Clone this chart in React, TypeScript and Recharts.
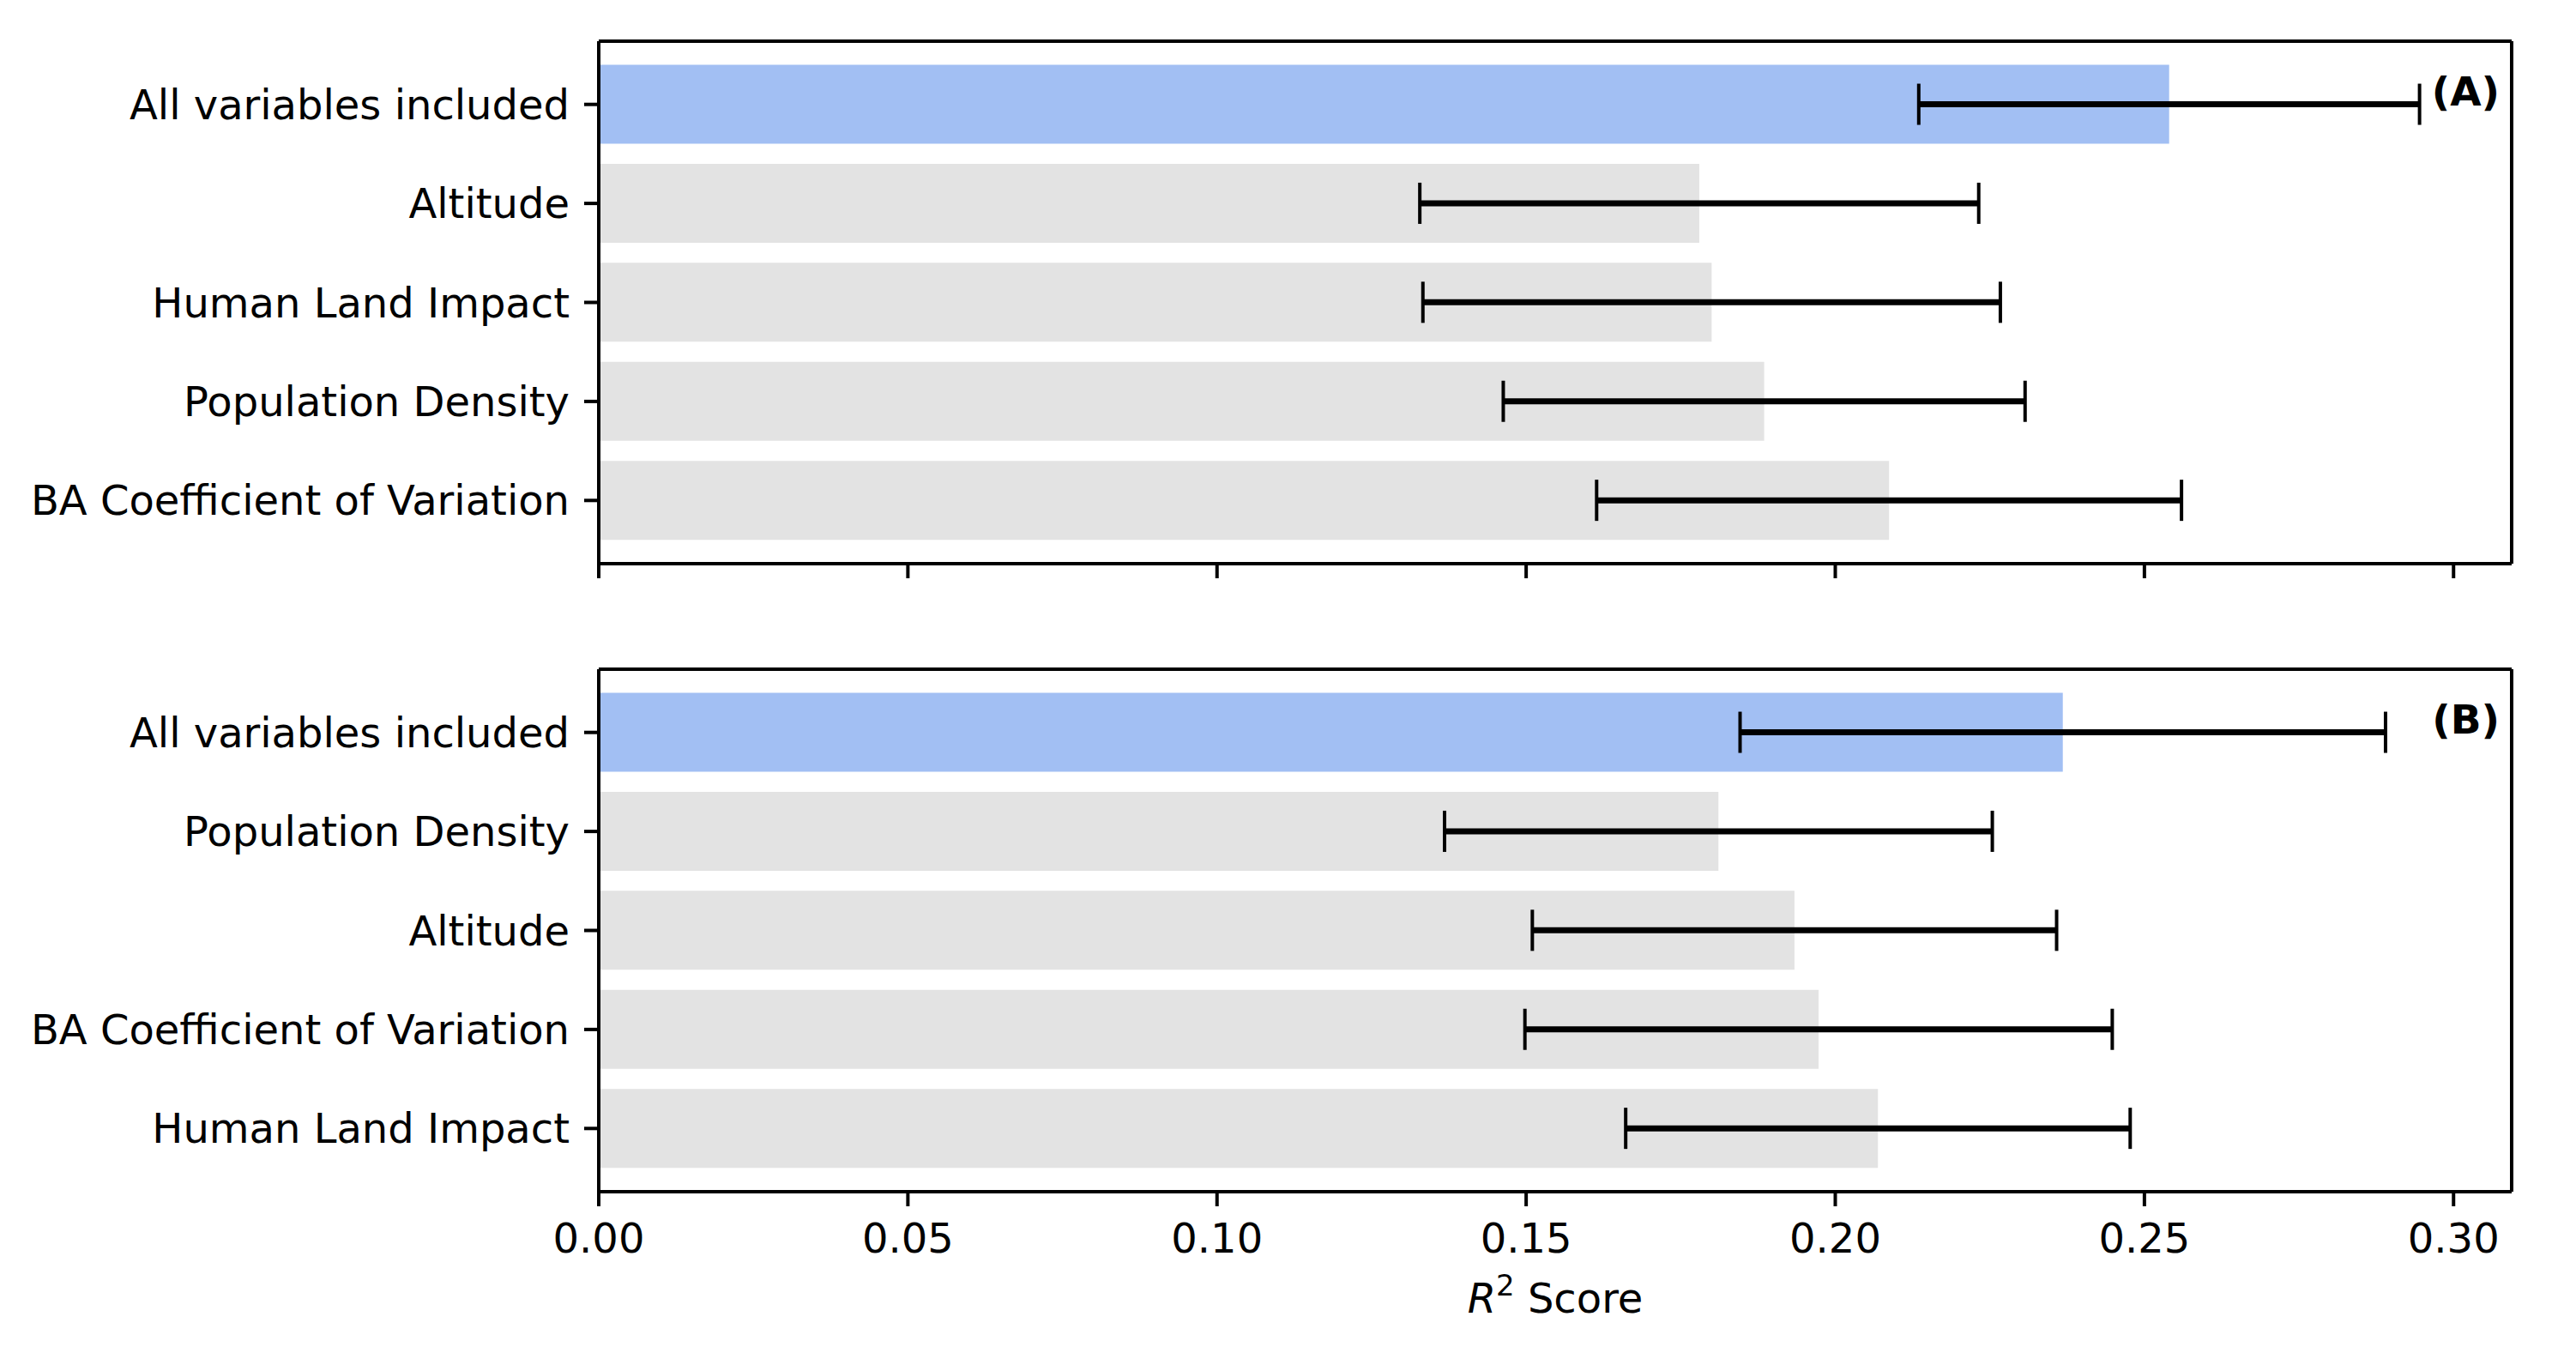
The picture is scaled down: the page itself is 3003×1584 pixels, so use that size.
import React from 'react';
import { BarChart, Bar, XAxis, YAxis, ErrorBar, Cell, ReferenceLine } from 'recharts';

// ---- data ----
const namesA = [
  'All variables included',
  'Altitude',
  'Human Land Impact',
  'Population Density',
  'BA Coefficient of Variation',
];
const valuesA = [0.254, 0.178, 0.180, 0.1885, 0.2087];
const errorsA = [0.0405, 0.0452, 0.0467, 0.0422, 0.0473];

const namesB = [
  'All variables included',
  'Population Density',
  'Altitude',
  'BA Coefficient of Variation',
  'Human Land Impact',
];
const valuesB = [0.2368, 0.1811, 0.1934, 0.1973, 0.2069];
const errorsB = [0.0522, 0.0443, 0.0424, 0.0475, 0.0408];

const xTicks = [0, 0.05, 0.1, 0.15, 0.2, 0.25, 0.3];
const X_MAX = 0.3094;
const panelTags = ['(A)', '(B)'];

// ---- style ----
const FONT = '"DejaVu Sans", sans-serif';
const HIGHLIGHT = '#a2bff3';
const BASE = '#e3e3e3';
const SPINE = 4;
const FS = 48;

const build = (names: string[], values: number[], errs: number[]) =>
  names.map((n, i) => ({ name: n, value: values[i], err: errs[i] }));

const dataA = build(namesA, valuesA, errorsA);
const dataB = build(namesB, valuesB, errorsB);

type PanelProps = {
  data: { name: string; value: number; err: number }[];
  tag: string;
  showLabels: boolean;
  top: number;
  height: number;
  marginTop: number;
  xAxisHeight: number;
};

const TagLabel = (tag: string) => (props: any) => {
  const vb = props.viewBox || {};
  return (
    <text
      x={vb.x - 14}
      y={vb.y + 58}
      textAnchor="end"
      dominantBaseline="central"
      fontFamily={FONT}
      fontWeight="bold"
      fontSize={47}
      fill="#000"
    >
      {tag}
    </text>
  );
};

const XTitle = (props: any) => {
  const vb = props.viewBox || {};
  return (
    <text
      x={vb.x + vb.width / 2}
      y={vb.y + 141}
      textAnchor="middle"
      fontFamily={FONT}
      fontSize={FS}
      fill="#000"
    >
      <tspan fontStyle="italic">R</tspan>
      <tspan dy={-20} fontSize={34}>2</tspan>
      <tspan dy={20}>{' Score'}</tspan>
    </text>
  );
};

function Panel({ data, tag, showLabels, top, height, marginTop, xAxisHeight }: PanelProps) {
  return (
    <div style={{ position: 'absolute', left: 0, top, width: 3003, height }}>
      <BarChart
        width={3003}
        height={height}
        data={data}
        layout="vertical"
        margin={{ top: marginTop - 2, right: 75, bottom: 0, left: 0 }}
        barCategoryGap="10%"
      >
        <XAxis
          type="number"
          domain={[0, X_MAX]}
          ticks={xTicks}
          allowDataOverflow
          height={xAxisHeight}
          axisLine={{ stroke: '#000', strokeWidth: SPINE }}
          tickLine={{ stroke: '#000', strokeWidth: SPINE }}
          tickSize={17}
          tickMargin={20}
          interval={0}
          tickFormatter={(v: number) => (showLabels ? v.toFixed(2) : '')}
          tick={{ fill: '#000', fontSize: FS, fontFamily: FONT }}
          label={showLabels ? { content: XTitle } : undefined}
        />
        <XAxis
          xAxisId="top"
          orientation="top"
          type="number"
          domain={[0, X_MAX]}
          height={2}
          axisLine={{ stroke: '#000', strokeWidth: SPINE }}
          tick={false}
          tickLine={false}
        />
        <YAxis
          type="category"
          dataKey="name"
          width={698}
          interval={0}
          padding={{ top: 16, bottom: 16 }}
          axisLine={{ stroke: '#000', strokeWidth: SPINE }}
          tickLine={{ stroke: '#000', strokeWidth: SPINE }}
          tickSize={17}
          tickMargin={17}
          tick={{ fill: '#000', fontSize: FS, fontFamily: FONT }}
        />
        <Bar dataKey="value" isAnimationActive={false}>
          {data.map((d, i) => (
            <Cell key={d.name} fill={i === 0 ? HIGHLIGHT : BASE} />
          ))}
          <ErrorBar dataKey="err" direction="x" width={24} strokeWidth={4} stroke="#000" isAnimationActive={false} />
          <ErrorBar dataKey="err" direction="x" width={0} strokeWidth={7} stroke="#000" isAnimationActive={false} />
        </Bar>
        <ReferenceLine
          x={X_MAX}
          stroke="#000"
          strokeWidth={SPINE}
          label={{ content: TagLabel(tag) }}
        />
      </BarChart>
    </div>
  );
}

export default function App() {
  return (
    <div style={{ position: 'absolute', left: 0, top: 0, width: 3003, height: 1584, background: '#fff' }}>
      <Panel data={dataA} tag={panelTags[0]} showLabels={false} top={0} height={717} marginTop={48} xAxisHeight={60} />
      <Panel data={dataB} tag={panelTags[1]} showLabels={true} top={717} height={867} marginTop={63} xAxisHeight={195} />
    </div>
  );
}
